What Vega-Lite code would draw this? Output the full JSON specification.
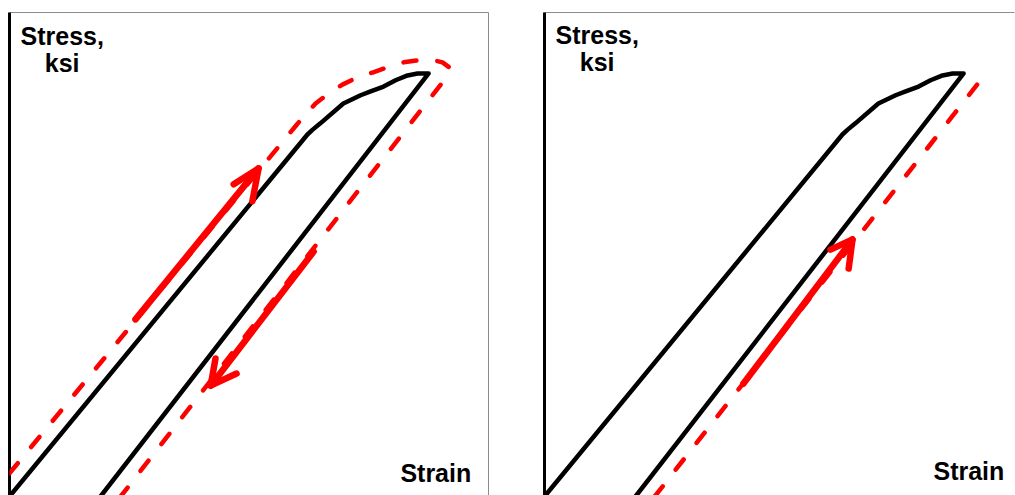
{
  "$schema": "https://vega.github.io/schema/vega-lite/v6.json",
  "padding": {"left": 7.5, "top": 10.5, "right": 0, "bottom": 0},
  "spacing": 56,
  "bounds": "flush",
  "config": {"view": {"stroke": null}},
  "datasets": {
    "pts": [
      {"panel": "A", "kind": "curve", "seg": "c", "i": 0, "strain": 0, "stress": 0},
      {"panel": "A", "kind": "curve", "seg": "c", "i": 1, "strain": 62.2, "stress": 74.8},
      {"panel": "A", "kind": "curve", "seg": "c", "i": 2, "strain": 63.3, "stress": 75.8},
      {"panel": "A", "kind": "curve", "seg": "c", "i": 3, "strain": 64.9, "stress": 77.1},
      {"panel": "A", "kind": "curve", "seg": "c", "i": 4, "strain": 69.7, "stress": 81.2},
      {"panel": "A", "kind": "curve", "seg": "c", "i": 5, "strain": 73.3, "stress": 82.9},
      {"panel": "A", "kind": "curve", "seg": "c", "i": 6, "strain": 75.4, "stress": 83.7},
      {"panel": "A", "kind": "curve", "seg": "c", "i": 7, "strain": 78.1, "stress": 84.7},
      {"panel": "A", "kind": "curve", "seg": "c", "i": 8, "strain": 80.6, "stress": 86.0},
      {"panel": "A", "kind": "curve", "seg": "c", "i": 9, "strain": 83.1, "stress": 87.0},
      {"panel": "A", "kind": "curve", "seg": "c", "i": 10, "strain": 85.2, "stress": 87.4},
      {"panel": "A", "kind": "curve", "seg": "c", "i": 11, "strain": 87.5, "stress": 87.4},
      {"panel": "A", "kind": "curve", "seg": "c", "i": 12, "strain": 19.0, "stress": 0},

      {"panel": "A", "kind": "dashed", "seg": "e", "i": 0, "strain": 0, "stress": 4.8},
      {"panel": "A", "kind": "dashed", "seg": "e", "i": 1, "strain": 57.6, "stress": 74.0},
      {"panel": "A", "kind": "dashed", "seg": "e", "i": 2, "strain": 59.7, "stress": 76.5},
      {"panel": "A", "kind": "dashed", "seg": "e", "i": 3, "strain": 61.4, "stress": 78.5},
      {"panel": "A", "kind": "dashed", "seg": "e", "i": 4, "strain": 63.9, "stress": 81.2},
      {"panel": "A", "kind": "dashed", "seg": "e", "i": 5, "strain": 66.4, "stress": 83.1},
      {"panel": "A", "kind": "dashed", "seg": "e", "i": 6, "strain": 69.5, "stress": 85.1},
      {"panel": "A", "kind": "dashed", "seg": "e", "i": 7, "strain": 72.2, "stress": 86.4},
      {"panel": "A", "kind": "dashed", "seg": "e", "i": 8, "strain": 75.8, "stress": 87.6},
      {"panel": "A", "kind": "dashed", "seg": "e", "i": 9, "strain": 78.7, "stress": 88.6},
      {"panel": "A", "kind": "dashed", "seg": "e", "i": 10, "strain": 82.3, "stress": 89.7},
      {"panel": "A", "kind": "dashed", "seg": "e", "i": 11, "strain": 85.2, "stress": 90.1},
      {"panel": "A", "kind": "dashed", "seg": "e", "i": 12, "strain": 88.7, "stress": 90.1},
      {"panel": "A", "kind": "dashed", "seg": "e", "i": 13, "strain": 90.4, "stress": 89.7},
      {"panel": "A", "kind": "dashed", "seg": "e", "i": 14, "strain": 91.9, "stress": 88.6},
      {"panel": "A", "kind": "dashed", "seg": "e", "i": 15, "strain": 91.2, "stress": 86.6},
      {"panel": "A", "kind": "dashed", "seg": "e", "i": 16, "strain": 23.2, "stress": 0},

      {"panel": "A", "kind": "arrow", "seg": "u1", "i": 0, "strain": 26.3, "stress": 36.6},
      {"panel": "A", "kind": "arrow", "seg": "u1", "i": 1, "strain": 52.0, "stress": 67.8},
      {"panel": "A", "kind": "arrow", "seg": "u2", "i": 0, "strain": 46.8, "stress": 64.5},
      {"panel": "A", "kind": "arrow", "seg": "u2", "i": 1, "strain": 52.0, "stress": 67.8},
      {"panel": "A", "kind": "arrow", "seg": "u2", "i": 2, "strain": 50.7, "stress": 61.0},
      {"panel": "A", "kind": "arrow", "seg": "d1", "i": 0, "strain": 63.5, "stress": 50.6},
      {"panel": "A", "kind": "arrow", "seg": "d1", "i": 1, "strain": 42.0, "stress": 22.9},
      {"panel": "A", "kind": "arrow", "seg": "d2", "i": 0, "strain": 43.0, "stress": 28.5},
      {"panel": "A", "kind": "arrow", "seg": "d2", "i": 1, "strain": 42.0, "stress": 22.9},
      {"panel": "A", "kind": "arrow", "seg": "d2", "i": 2, "strain": 47.4, "stress": 25.4},

      {"panel": "B", "kind": "curve", "seg": "c", "i": 0, "strain": 0, "stress": 0},
      {"panel": "B", "kind": "curve", "seg": "c", "i": 1, "strain": 62.2, "stress": 74.8},
      {"panel": "B", "kind": "curve", "seg": "c", "i": 2, "strain": 63.3, "stress": 75.8},
      {"panel": "B", "kind": "curve", "seg": "c", "i": 3, "strain": 64.9, "stress": 77.1},
      {"panel": "B", "kind": "curve", "seg": "c", "i": 4, "strain": 69.7, "stress": 81.2},
      {"panel": "B", "kind": "curve", "seg": "c", "i": 5, "strain": 73.3, "stress": 82.9},
      {"panel": "B", "kind": "curve", "seg": "c", "i": 6, "strain": 75.4, "stress": 83.7},
      {"panel": "B", "kind": "curve", "seg": "c", "i": 7, "strain": 78.1, "stress": 84.7},
      {"panel": "B", "kind": "curve", "seg": "c", "i": 8, "strain": 80.6, "stress": 86.0},
      {"panel": "B", "kind": "curve", "seg": "c", "i": 9, "strain": 83.1, "stress": 87.0},
      {"panel": "B", "kind": "curve", "seg": "c", "i": 10, "strain": 85.2, "stress": 87.4},
      {"panel": "B", "kind": "curve", "seg": "c", "i": 11, "strain": 87.5, "stress": 87.4},
      {"panel": "B", "kind": "curve", "seg": "c", "i": 12, "strain": 19.0, "stress": 0},

      {"panel": "B", "kind": "dashed", "seg": "e", "i": 0, "strain": 23.0, "stress": 0},
      {"panel": "B", "kind": "dashed", "seg": "e", "i": 1, "strain": 91.2, "stress": 86.2},

      {"panel": "B", "kind": "arrow", "seg": "r1", "i": 0, "strain": 41.5, "stress": 23.3},
      {"panel": "B", "kind": "arrow", "seg": "r1", "i": 1, "strain": 64.3, "stress": 53.1},
      {"panel": "B", "kind": "arrow", "seg": "r2", "i": 0, "strain": 59.7, "stress": 51.0},
      {"panel": "B", "kind": "arrow", "seg": "r2", "i": 1, "strain": 64.3, "stress": 53.1},
      {"panel": "B", "kind": "arrow", "seg": "r2", "i": 2, "strain": 63.5, "stress": 47.1}
    ],
    "one": [{"k": 1}]
  },
  "hconcat": [
    {
      "width": 479,
      "height": 484,
      "layer": [
        {"data": {"name": "one"}, "mark": {"type": "rule", "stroke": "#8c8c8c", "strokeWidth": 1},
         "encoding": {"x": {"datum": 0, "type": "quantitative", "scale": {"domain": [0, 100], "nice": false, "zero": false}, "axis": null}, "x2": {"datum": 100}, "y": {"datum": 100, "type": "quantitative", "scale": {"domain": [0, 100], "nice": false, "zero": false}, "axis": null}}},
        {"data": {"name": "one"}, "mark": {"type": "rule", "stroke": "#8c8c8c", "strokeWidth": 1},
         "encoding": {"x": {"datum": 100, "type": "quantitative"}, "y": {"datum": 0, "type": "quantitative"}, "y2": {"datum": 100}}},
        {"data": {"name": "one"}, "mark": {"type": "rule", "stroke": "#000000", "strokeWidth": 3},
         "encoding": {"x": {"datum": 0, "type": "quantitative"}, "y": {"datum": 0, "type": "quantitative"}, "y2": {"datum": 100}}},
        {"data": {"name": "pts"}, "transform": [{"filter": "datum.panel === 'A' && datum.kind === 'curve'"}],
         "mark": {"type": "line", "stroke": "#000000", "strokeWidth": 4.5, "strokeJoin": "round", "strokeCap": "round", "clip": true},
         "encoding": {"x": {"field": "strain", "type": "quantitative"}, "y": {"field": "stress", "type": "quantitative"}, "order": {"field": "i", "type": "quantitative"}, "detail": {"field": "seg", "type": "nominal"}}},
        {"data": {"name": "pts"}, "transform": [{"filter": "datum.panel === 'A' && datum.kind === 'dashed'"}],
         "mark": {"type": "line", "stroke": "#ff0000", "strokeWidth": 4.5, "strokeDash": [13, 21], "strokeJoin": "round", "strokeCap": "round", "clip": true},
         "encoding": {"x": {"field": "strain", "type": "quantitative"}, "y": {"field": "stress", "type": "quantitative"}, "order": {"field": "i", "type": "quantitative"}, "detail": {"field": "seg", "type": "nominal"}}},
        {"data": {"name": "pts"}, "transform": [{"filter": "datum.panel === 'A' && datum.kind === 'arrow'"}],
         "mark": {"type": "line", "stroke": "#ff0000", "strokeWidth": 6.5, "strokeJoin": "round", "strokeCap": "round", "clip": true},
         "encoding": {"x": {"field": "strain", "type": "quantitative"}, "y": {"field": "stress", "type": "quantitative"}, "order": {"field": "i", "type": "quantitative"}, "detail": {"field": "seg", "type": "nominal"}}},
        {"data": {"name": "one"}, "mark": {"type": "text", "text": ["Stress,", "ksi"], "font": "Liberation Sans", "fontWeight": "bold", "fontSize": 25, "align": "center", "baseline": "alphabetic", "lineHeight": 27, "fill": "#000000"},
         "encoding": {"x": {"datum": 11.0, "type": "quantitative"}, "y": {"datum": 93.2, "type": "quantitative"}}},
        {"data": {"name": "one"}, "mark": {"type": "text", "text": "Strain", "font": "Liberation Sans", "fontWeight": "bold", "fontSize": 25, "align": "center", "baseline": "alphabetic", "fill": "#000000"},
         "encoding": {"x": {"datum": 89.0, "type": "quantitative"}, "y": {"datum": 3.0, "type": "quantitative"}}}
      ]
    },
    {
      "width": 470,
      "height": 484,
      "layer": [
        {"data": {"name": "one"}, "mark": {"type": "rule", "stroke": "#8c8c8c", "strokeWidth": 1},
         "encoding": {"x": {"datum": 0, "type": "quantitative", "scale": {"domain": [0, 98.12], "nice": false, "zero": false}, "axis": null}, "x2": {"datum": 98.12}, "y": {"datum": 100, "type": "quantitative", "scale": {"domain": [0, 100], "nice": false, "zero": false}, "axis": null}}},
        {"data": {"name": "one"}, "mark": {"type": "rule", "stroke": "#000000", "strokeWidth": 3},
         "encoding": {"x": {"datum": 0, "type": "quantitative"}, "y": {"datum": 0, "type": "quantitative"}, "y2": {"datum": 100}}},
        {"data": {"name": "pts"}, "transform": [{"filter": "datum.panel === 'B' && datum.kind === 'curve'"}],
         "mark": {"type": "line", "stroke": "#000000", "strokeWidth": 4.5, "strokeJoin": "round", "strokeCap": "round", "clip": true},
         "encoding": {"x": {"field": "strain", "type": "quantitative"}, "y": {"field": "stress", "type": "quantitative"}, "order": {"field": "i", "type": "quantitative"}, "detail": {"field": "seg", "type": "nominal"}}},
        {"data": {"name": "pts"}, "transform": [{"filter": "datum.panel === 'B' && datum.kind === 'dashed'"}],
         "mark": {"type": "line", "stroke": "#ff0000", "strokeWidth": 4.5, "strokeDash": [13, 21], "strokeJoin": "round", "strokeCap": "round", "clip": true},
         "encoding": {"x": {"field": "strain", "type": "quantitative"}, "y": {"field": "stress", "type": "quantitative"}, "order": {"field": "i", "type": "quantitative"}, "detail": {"field": "seg", "type": "nominal"}}},
        {"data": {"name": "pts"}, "transform": [{"filter": "datum.panel === 'B' && datum.kind === 'arrow'"}],
         "mark": {"type": "line", "stroke": "#ff0000", "strokeWidth": 6.5, "strokeJoin": "round", "strokeCap": "round", "clip": true},
         "encoding": {"x": {"field": "strain", "type": "quantitative"}, "y": {"field": "stress", "type": "quantitative"}, "order": {"field": "i", "type": "quantitative"}, "detail": {"field": "seg", "type": "nominal"}}},
        {"data": {"name": "one"}, "mark": {"type": "text", "text": ["Stress,", "ksi"], "font": "Liberation Sans", "fontWeight": "bold", "fontSize": 25, "align": "center", "baseline": "alphabetic", "lineHeight": 27, "fill": "#000000"},
         "encoding": {"x": {"datum": 11.0, "type": "quantitative"}, "y": {"datum": 93.5, "type": "quantitative"}}},
        {"data": {"name": "one"}, "mark": {"type": "text", "text": "Strain", "font": "Liberation Sans", "fontWeight": "bold", "fontSize": 25, "align": "center", "baseline": "alphabetic", "fill": "#000000"},
         "encoding": {"x": {"datum": 88.6, "type": "quantitative"}, "y": {"datum": 3.5, "type": "quantitative"}}}
      ]
    }
  ]
}
